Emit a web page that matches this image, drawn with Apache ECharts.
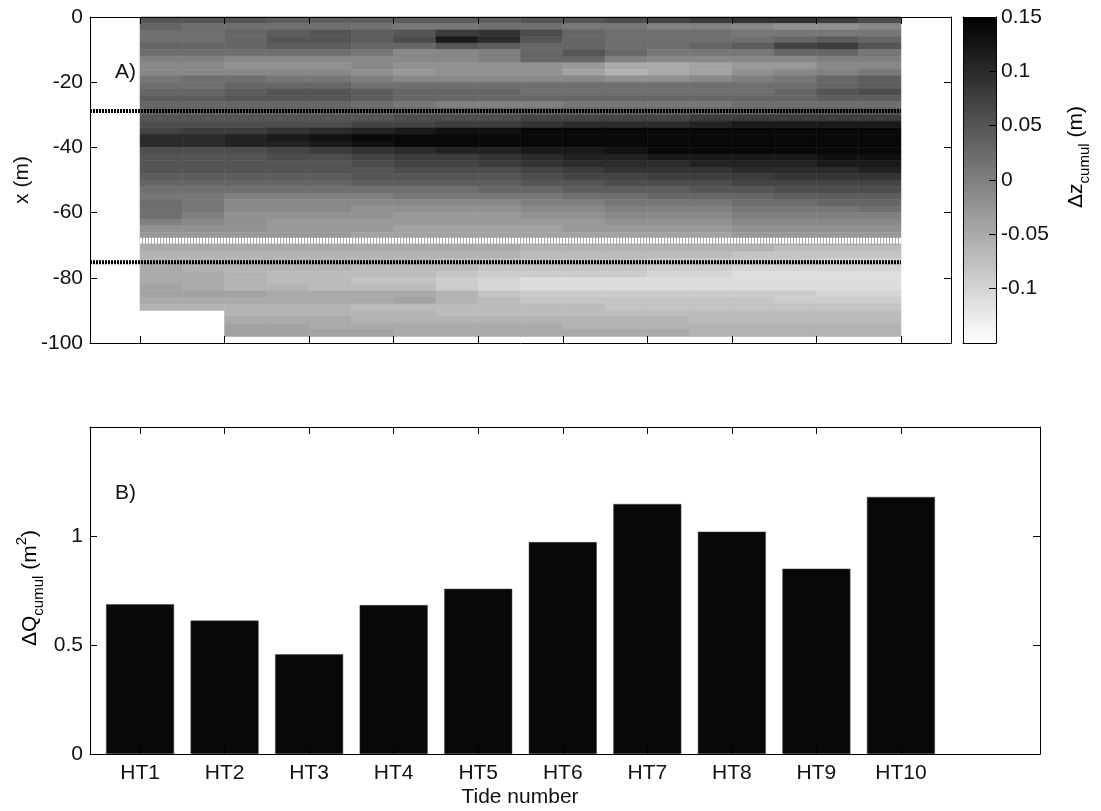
<!DOCTYPE html>
<html>
<head>
<meta charset="utf-8">
<script src="https://cdn.jsdelivr.net/npm/echarts@6/dist/echarts.min.js"></script>
<style>
  html, body { margin: 0; padding: 0; background: #fff; }
  #chart { width: 1101px; height: 811px; }
</style>
</head>
<body>
<div id="chart"></div>
<script>
// tide labels and positions
var tides = ['HT1', 'HT2', 'HT3', 'HT4', 'HT5', 'HT6', 'HT7', 'HT8', 'HT9', 'HT10'];
var tidePos = [1, 2, 3, 4, 5, 6, 7, 8, 9, 10];

// panel B: cumulative volume change (m2)
var dQcumul = [0.687, 0.612, 0.457, 0.683, 0.758, 0.972, 1.147, 1.020, 0.850, 1.179];

// panel A: column edges (tide number) and 2 m depth rows
var colEdges = [1, 1.5, 2, 2.5, 3, 3.5, 4, 4.5, 5, 5.5, 6, 6.5, 7, 7.5, 8, 8.5, 9, 9.5, 10];
var rowStep = 2;

// dz cumul in cm, one row per 2 m from x = 0 down to x = -98
var dzCm = [
    [5,5,5,4,4,4,4,4,4,5,5,6,7,8,9,9,8,6],
    [3,2,2,2,2,2,1,1,2,2,1,1,0,0,-1,-2,-2,-1],
    [2,2,3,4,5,4,5,8,9,6,3,2,2,2,1,1,1,1],
    [2,2,3,5,5,4,6,12,10,5,3,2,2,2,2,3,4,3],
    [3,3,3,4,4,3,3,5,4,3,3,2,2,3,4,7,8,5],
    [2,2,2,2,2,1,-1,-1,0,3,5,3,1,1,1,3,3,1],
    [0,0,-1,-1,-1,-1,-1,-1,0,3,3,0,-1,-1,-1,-1,0,0],
    [-1,-1,-2,-2,-2,-1,-2,-2,-2,-2,-3,-5,-5,-4,-3,-3,-1,-1],
    [-1,-1,-1,-1,-1,-2,-3,-2,-2,-2,-4,-6,-5,-4,-2,-1,0,1],
    [1,2,2,1,1,0,-1,-1,-1,-1,-1,-2,-2,-1,0,1,3,4],
    [2,2,3,3,3,2,2,2,2,2,2,2,2,2,2,2,3,4],
    [3,3,4,5,5,4,3,3,3,2,2,2,2,2,2,3,5,6],
    [4,4,5,5,5,4,3,3,3,3,3,3,3,3,3,3,4,4],
    [3,3,3,3,3,2,1,0,0,0,1,1,1,1,2,2,2,2],
    [4,4,4,4,4,4,4,4,4,4,4,4,4,4,4,5,5,5],
    [5,5,5,5,5,5,6,6,6,7,7,7,7,8,8,8,8,8],
    [6,6,6,6,6,7,7,8,8,9,10,10,10,11,12,12,12,12],
    [7,8,8,9,10,11,12,13,13,14,14,14,14,14,14,14,14,14],
    [10,10,11,12,13,14,14,14,14,14,14,14,14,14,14,14,14,14],
    [10,10,11,11,12,13,14,14,14,14,14,14,14,14,14,14,14,14],
    [6,6,6,7,8,9,10,11,11,12,12,13,14,14,14,14,14,14],
    [5,5,5,6,6,7,8,8,9,10,11,11,12,12,12,12,13,13],
    [5,5,5,5,5,6,7,7,8,9,10,10,10,11,11,11,12,12],
    [5,5,5,5,5,5,6,6,6,7,8,9,9,9,10,10,10,11],
    [4,4,4,4,4,5,5,5,5,6,7,7,8,8,8,9,9,9],
    [3,3,3,3,3,4,4,4,4,5,5,6,6,6,7,7,7,7],
    [2,2,2,2,2,2,2,2,3,3,4,4,4,5,5,6,6,6],
    [1,1,0,0,0,0,1,1,1,1,2,2,3,3,3,4,4,4],
    [2,1,-1,-1,-1,-1,-1,-1,-1,0,0,1,1,1,2,2,3,3],
    [2,1,-1,-1,-1,-2,-2,-2,-2,-1,-1,0,0,0,1,1,1,2],
    [2,0,-2,-2,-2,-2,-3,-3,-3,-2,-2,-1,-1,-1,0,0,0,0],
    [0,-1,-2,-3,-3,-3,-3,-3,-3,-3,-3,-2,-2,-2,-1,-1,-1,-1],
    [-2,-2,-2,-3,-3,-3,-4,-4,-4,-4,-3,-3,-3,-3,-2,-2,-2,-2],
    [-3,-3,-3,-3,-3,-4,-4,-4,-4,-4,-4,-4,-4,-4,-3,-3,-3,-3],
    [-4,-4,-4,-4,-4,-4,-4,-4,-4,-4,-4,-4,-4,-4,-4,-4,-4,-4],
    [-5,-5,-5,-5,-5,-5,-5,-5,-5,-6,-6,-6,-6,-6,-6,-7,-7,-7],
    [-6,-6,-6,-6,-6,-6,-6,-6,-6,-7,-7,-7,-7,-7,-8,-8,-8,-8],
    [-6,-6,-6,-6,-6,-6,-6,-7,-7,-7,-7,-7,-8,-8,-8,-8,-9,-9],
    [-5,-6,-6,-6,-6,-7,-7,-7,-8,-8,-8,-8,-9,-9,-10,-10,-10,-10],
    [-5,-5,-6,-7,-7,-7,-7,-8,-9,-9,-9,-9,-10,-10,-11,-11,-11,-11],
    [-5,-5,-6,-7,-7,-8,-8,-9,-10,-11,-11,-11,-11,-11,-11,-11,-11,-11],
    [-4,-5,-6,-6,-7,-7,-7,-9,-10,-11,-11,-11,-11,-11,-11,-11,-11,-11],
    [-4,-4,-4,-5,-5,-5,-5,-6,-8,-9,-9,-9,-9,-9,-9,-9,-10,-10],
    [-5,-5,-5,-5,-5,-5,-4,-6,-7,-8,-8,-8,-8,-8,-8,-9,-9,-9],
    [-6,-6,-6,-6,-6,-7,-7,-7,-7,-7,-7,-8,-8,-8,-8,-8,-8,-8],
    [null,null,-6,-6,-6,-6,-6,-7,-7,-7,-7,-7,-7,-7,-7,-7,-7,-7],
    [null,null,-5,-5,-5,-6,-6,-6,-6,-6,-6,-6,-6,-7,-7,-7,-7,-7],
    [null,null,-4,-4,-5,-5,-5,-5,-5,-5,-6,-6,-6,-6,-6,-6,-6,-6],
    [null,null,-4,-4,-4,-4,-5,-5,-5,-5,-5,-5,-5,-6,-6,-6,-6,-6]
];

// section limits drawn as dotted lines (m)
var blackLineDepths = [-28.8, -75.2];
var whiteLineDepth = -68.6;

var xMinA = 0.408, xMaxA = 10.592, xMaxB = 11.645;
var FONT = 'Liberation Sans, Arial, Helvetica, sans-serif';
var FS = 21;

var cells = [];
for (var r = 0; r < dzCm.length; r++) {
    for (var c = 0; c < dzCm[r].length; c++) {
        var v = dzCm[r][c];
        if (v === null) continue;
        cells.push([colEdges[c], colEdges[c + 1], -r * rowStep, -(r + 1) * rowStep, v / 100]);
    }
}

function boxAxis(grid, pos, min, max, extra) {
    var a = {
        type: 'value', gridIndex: grid, position: pos, min: min, max: max, z: 5,
        axisLine: {show: true, onZero: false, lineStyle: {color: '#000', width: 1}},
        axisTick: {show: false},
        axisLabel: {show: false},
        splitLine: {show: false}
    };
    for (var k in extra) a[k] = extra[k];
    return a;
}

var tickStyle = {show: true, inside: true, length: 7, lineStyle: {color: '#000', width: 1}};
var htTicks = {show: true, inside: true, length: 7, customValues: tidePos, lineStyle: {color: '#000'}};

var chart = echarts.init(document.getElementById('chart'));

var series = [{
    type: 'custom',
    xAxisIndex: 0, yAxisIndex: 0,
    z: 1, silent: true,
    data: cells,
    encode: {x: [0, 1], y: [2, 3]},
    renderItem: function (params, api) {
        var p0 = api.coord([api.value(0), api.value(2)]);
        var p1 = api.coord([api.value(1), api.value(3)]);
        var col = api.visual('color');
        return {
            type: 'rect',
            shape: {x: p0[0], y: p0[1], width: p1[0] - p0[0], height: p1[1] - p0[1]},
            style: {fill: col, stroke: col, lineWidth: 0.6}
        };
    }
}];

blackLineDepths.forEach(function (d) {
    series.push({
        type: 'line', xAxisIndex: 0, yAxisIndex: 0, z: 3, silent: true,
        showSymbol: false, symbol: 'none',
        data: [[xMinA, d], [tidePos[tidePos.length - 1], d]],
        lineStyle: {color: '#000', width: 4, type: [2, 1]}
    });
});
series.push({
    type: 'line', xAxisIndex: 0, yAxisIndex: 0, z: 3, silent: true,
    showSymbol: false, symbol: 'none',
    data: [[tidePos[0], whiteLineDepth], [tidePos[tidePos.length - 1], whiteLineDepth]],
    lineStyle: {color: '#fff', width: 6, type: [2, 1]}
});
series.push({
    type: 'bar', xAxisIndex: 2, yAxisIndex: 2, z: 2,
    barWidth: 68,
    data: tidePos.map(function (x, i) { return [x, dQcumul[i]]; }),
    itemStyle: {color: '#080808', borderColor: '#444', borderWidth: 0.5}
});

var option = {
    animation: false,
    backgroundColor: '#fff',
    textStyle: {fontFamily: FONT},
    grid: [
        {left: 90, top: 17, width: 861, height: 326},
        {left: 90, top: 427, width: 950, height: 327},
        {left: 963, top: 17, width: 33, height: 326}
    ],
    visualMap: {
        type: 'continuous',
        seriesIndex: 0,
        dimension: 4,
        min: -0.15, max: 0.15,
        inRange: {color: ['#ffffff', '#000000']},
        orient: 'vertical',
        left: 963, top: 17,
        itemWidth: 33, itemHeight: 326,
        padding: 0,
        calculable: false,
        hoverLink: false,
        text: null,
        showLabel: false
    },
    xAxis: [
        boxAxis(0, 'bottom', xMinA, xMaxA, {axisTick: htTicks}),
        boxAxis(0, 'top', xMinA, xMaxA, {axisTick: htTicks}),
        boxAxis(1, 'bottom', xMinA, xMaxB, {
            axisTick: htTicks,
            axisLabel: {show: true, customValues: tidePos, margin: 9, color: '#111', fontSize: FS, fontFamily: FONT,
                formatter: function (v) { return tides[tidePos.indexOf(Math.round(v))]; }}
        }),
        boxAxis(1, 'top', xMinA, xMaxB, {axisTick: htTicks}),
        boxAxis(2, 'bottom', 0, 1, {}),
        boxAxis(2, 'top', 0, 1, {})
    ],
    yAxis: [
        boxAxis(0, 'left', -100, 0, {interval: 20, axisTick: tickStyle,
            axisLabel: {show: true, margin: 7, color: '#111', fontSize: FS, fontFamily: FONT}}),
        boxAxis(0, 'right', -100, 0, {interval: 20, axisTick: tickStyle}),
        boxAxis(1, 'left', 0, 1.5, {interval: 0.5, axisTick: tickStyle,
            axisLabel: {show: true, margin: 7, color: '#111', fontSize: FS, fontFamily: FONT,
                formatter: function (v) { return v > 1.4 ? '' : String(v); }}}),
        boxAxis(1, 'right', 0, 1.5, {interval: 0.5, axisTick: tickStyle}),
        boxAxis(2, 'left', -0.15, 0.15, {interval: 0.05}),
        boxAxis(2, 'right', -0.15, 0.15, {interval: 0.05, axisTick: tickStyle,
            axisLabel: {show: true, margin: 5, color: '#111', fontSize: FS, fontFamily: FONT,
                formatter: function (v) { return v < -0.14 ? '' : String(+v.toFixed(2)); }}})
    ],
    graphic: [
        {type: 'text', x: 115, y: 72, style: {text: 'A)', fill: '#111', font: FS + 'px ' + FONT, verticalAlign: 'middle'}},
        {type: 'text', x: 115, y: 493, style: {text: 'B)', fill: '#111', font: FS + 'px ' + FONT, verticalAlign: 'middle'}},
        {type: 'text', x: 520, y: 797, style: {text: 'Tide number', fill: '#111', font: FS + 'px ' + FONT, align: 'center', verticalAlign: 'middle'}},
        {type: 'text', x: 22, y: 180, rotation: Math.PI / 2,
            style: {text: 'x (m)', fill: '#111', font: FS + 'px ' + FONT, align: 'center', verticalAlign: 'middle'}},
        {type: 'text', x: 30, y: 588, rotation: Math.PI / 2,
            style: {
                text: '{a|ΔQ}{s|cumul}{a| (m}{p|2}{a|)}', align: 'center', verticalAlign: 'middle',
                rich: {
                    a: {fontSize: FS, fontFamily: FONT, color: '#111', lineHeight: 32, verticalAlign: 'middle'},
                    s: {fontSize: 15, fontFamily: FONT, color: '#111', lineHeight: 15, verticalAlign: 'bottom'},
                    p: {fontSize: 15, fontFamily: FONT, color: '#111', lineHeight: 15, verticalAlign: 'top'}
                }
            }},
        {type: 'text', x: 1076, y: 157, rotation: Math.PI / 2,
            style: {
                text: '{a|Δz}{s|cumul}{a| (m)}', align: 'center', verticalAlign: 'middle',
                rich: {
                    a: {fontSize: FS, fontFamily: FONT, color: '#111', lineHeight: 32, verticalAlign: 'middle'},
                    s: {fontSize: 15, fontFamily: FONT, color: '#111', lineHeight: 15, verticalAlign: 'bottom'}
                }
            }}
    ],
    series: series
};

chart.setOption(option);
</script>
</body>
</html>
